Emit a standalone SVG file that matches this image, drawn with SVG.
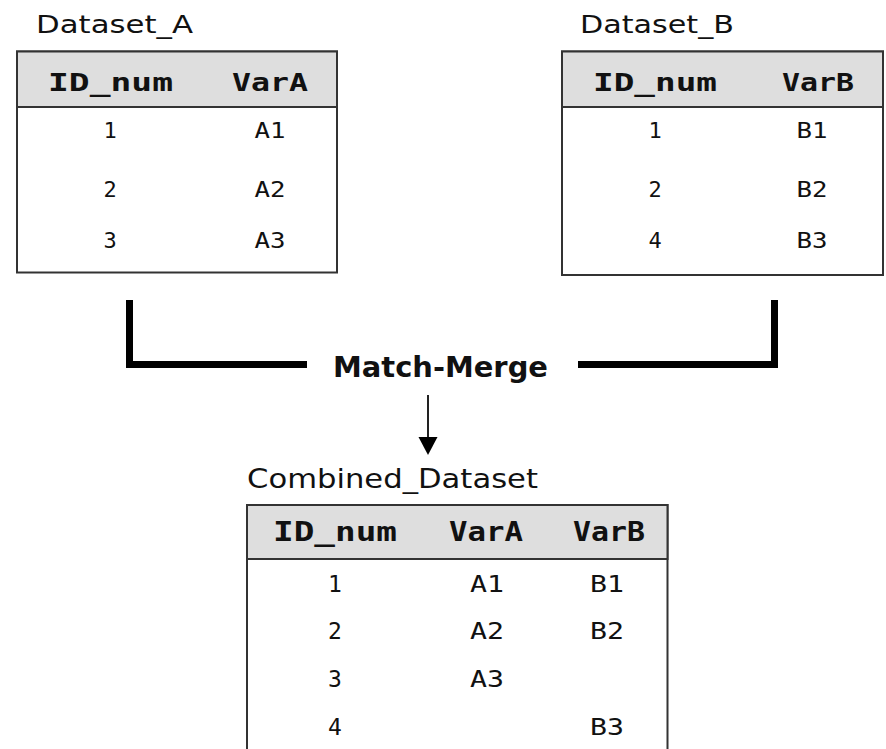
<svg xmlns="http://www.w3.org/2000/svg" width="886" height="749" viewBox="0 0 886 749">
<style>
.title{font-family:"DejaVu Sans","Liberation Sans",sans-serif;fill:#111}
.hdr{font-family:"DejaVu Sans Mono","Liberation Mono",monospace;font-weight:bold;fill:#111;text-anchor:middle}
.cell{font-family:"DejaVu Sans Mono","Liberation Mono",monospace;fill:#111;text-anchor:middle}
.frame{fill:#fff;stroke:#333;stroke-width:2}
.head{fill:#dedede;stroke:#333;stroke-width:2}
.bracket{fill:none;stroke:#000;stroke-width:7;stroke-linejoin:miter}
.mm{font-family:"DejaVu Sans","Liberation Sans",sans-serif;font-weight:bold;fill:#111}
</style>
<defs>
<marker id="arr" markerWidth="19" markerHeight="18" refX="9.5" refY="0" orient="0" markerUnits="userSpaceOnUse" viewBox="0 0 19 18" overflow="visible">
<path d="M0,0 L19,0 L9.5,18 Z" fill="#000"/>
</marker>
</defs>
<rect width="886" height="749" fill="#fff"/>

<g id="dataset_a">
<text class="title" x="36" y="33" font-size="24" textLength="157" lengthAdjust="spacingAndGlyphs">Dataset_A</text>
<rect class="frame" x="17" y="51.5" width="320" height="221"/>
<rect class="head" x="17" y="51.5" width="320" height="55.5"/>
<text class="hdr" x="110.5" y="91" font-size="25" textLength="125" lengthAdjust="spacingAndGlyphs">ID_num</text>
<text class="hdr" x="270" y="91" font-size="25" textLength="76" lengthAdjust="spacingAndGlyphs">VarA</text>
<text class="cell" x="110" y="138" font-size="22">1</text>
<text class="cell" x="270" y="138" font-size="22" textLength="31" lengthAdjust="spacingAndGlyphs">A1</text>
<text class="cell" x="110" y="197" font-size="22">2</text>
<text class="cell" x="270" y="197" font-size="22" textLength="31" lengthAdjust="spacingAndGlyphs">A2</text>
<text class="cell" x="110" y="248" font-size="22">3</text>
<text class="cell" x="270" y="248" font-size="22" textLength="31" lengthAdjust="spacingAndGlyphs">A3</text>
</g>

<g id="dataset_b">
<text class="title" x="580" y="33" font-size="24" textLength="154" lengthAdjust="spacingAndGlyphs">Dataset_B</text>
<rect class="frame" x="562" y="51.5" width="321" height="223.5"/>
<rect class="head" x="562" y="51.5" width="321" height="55.5"/>
<text class="hdr" x="655" y="91" font-size="25" textLength="124" lengthAdjust="spacingAndGlyphs">ID_num</text>
<text class="hdr" x="818" y="91" font-size="25" textLength="72" lengthAdjust="spacingAndGlyphs">VarB</text>
<text class="cell" x="655" y="138" font-size="22">1</text>
<text class="cell" x="812" y="138" font-size="22" textLength="31" lengthAdjust="spacingAndGlyphs">B1</text>
<text class="cell" x="655" y="197" font-size="22">2</text>
<text class="cell" x="812" y="197" font-size="22" textLength="31" lengthAdjust="spacingAndGlyphs">B2</text>
<text class="cell" x="655" y="248" font-size="22">4</text>
<text class="cell" x="812" y="248" font-size="22" textLength="31" lengthAdjust="spacingAndGlyphs">B3</text>
</g>

<g id="match_merge">
<text class="mm" x="333" y="377" font-size="29" textLength="215" lengthAdjust="spacingAndGlyphs">Match-Merge</text>
</g>

<g id="connectors">
<path class="bracket" d="M129.5,300 V364.5 H307"/>
<path class="bracket" d="M578,364.5 H774.5 V300"/>
<line x1="428" y1="395" x2="428" y2="437" stroke="#222" stroke-width="2" marker-end="url(#arr)"/>
</g>

<g id="combined_dataset">
<text class="title" x="247" y="488" font-size="27" textLength="291" lengthAdjust="spacingAndGlyphs">Combined_Dataset</text>
<path class="frame" d="M247,760 V505 H667.5 V760"/>
<rect class="head" x="247" y="505" width="420.5" height="54"/>
<text class="hdr" x="335" y="541" font-size="26" textLength="124" lengthAdjust="spacingAndGlyphs">ID_num</text>
<text class="hdr" x="486" y="541" font-size="26" textLength="74" lengthAdjust="spacingAndGlyphs">VarA</text>
<text class="hdr" x="609" y="541" font-size="26" textLength="72" lengthAdjust="spacingAndGlyphs">VarB</text>
<text class="cell" x="335" y="592" font-size="23">1</text>
<text class="cell" x="487" y="592" font-size="23" textLength="34" lengthAdjust="spacingAndGlyphs">A1</text>
<text class="cell" x="607" y="592" font-size="23" textLength="34" lengthAdjust="spacingAndGlyphs">B1</text>
<text class="cell" x="335" y="639" font-size="23">2</text>
<text class="cell" x="487" y="639" font-size="23" textLength="34" lengthAdjust="spacingAndGlyphs">A2</text>
<text class="cell" x="607" y="639" font-size="23" textLength="34" lengthAdjust="spacingAndGlyphs">B2</text>
<text class="cell" x="335" y="687" font-size="23">3</text>
<text class="cell" x="487" y="687" font-size="23" textLength="34" lengthAdjust="spacingAndGlyphs">A3</text>
<text class="cell" x="335" y="735" font-size="23">4</text>
<text class="cell" x="607" y="735" font-size="23" textLength="34" lengthAdjust="spacingAndGlyphs">B3</text>
</g>
</svg>
